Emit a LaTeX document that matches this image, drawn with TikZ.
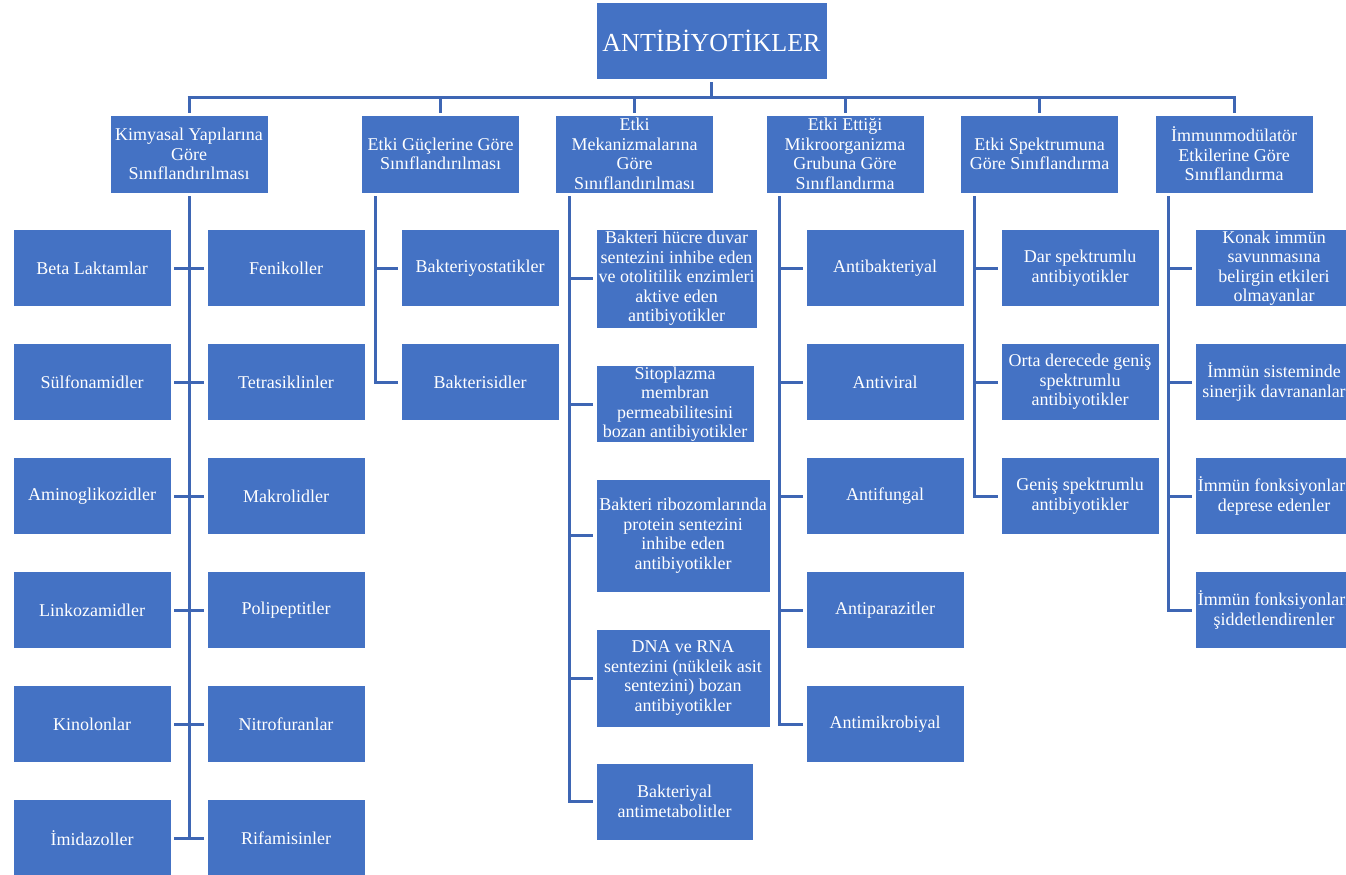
\documentclass[tikz,border=0pt]{standalone}
\usepackage{fontspec}
\setmainfont{Liberation Serif}
\definecolor{boxblue}{RGB}{68,114,196}
\definecolor{lineblue}{RGB}{62,102,180}
\begin{document}
\begin{tikzpicture}[x=1pt,y=-1pt,
  box/.style={fill=boxblue, draw=white, line width=0.6pt, text=white, align=center, inner sep=1pt, font=\fontsize{18}{19.5}\selectfont},
  leaf/.style={box, minimum width=158pt, minimum height=77pt},
  head/.style={box, minimum width=158pt, minimum height=78pt},
  conn/.style={draw=lineblue, line width=3pt},
]
\useasboundingbox (0,0) rectangle (1346,875);
\clip (0,0) rectangle (1346,875);
\fill[white] (0,0) rectangle (1346,875);

% root
\node[box, minimum width=231pt, minimum height=77pt, font=\fontsize{26}{28}\selectfont] (root) at (711.5,40.5) {ANTİBİYOTİKLER};

% level 1
\node[head] (k1) at (189,154) {Kimyasal Yapılarına\\Göre\\Sınıflandırılması};
\node[head] (k2) at (440.5,154) {Etki Güçlerine Göre\\Sınıflandırılması};
\node[head] (k3) at (634.5,154) {Etki\\Mekanizmalarına\\Göre\\Sınıflandırılması};
\node[head] (k4) at (845,154) {Etki Ettiği\\Mikroorganizma\\Grubuna Göre\\Sınıflandırma};
\node[head] (k5) at (1039.5,154) {Etki Spektrumuna\\Göre Sınıflandırma};
\node[head] (k6) at (1234,154) {İmmunmodülatör\\Etkilerine Göre\\Sınıflandırma};

% column 1
\node[leaf] (a1) at (92,268) {Beta Laktamlar};
\node[leaf] (a2) at (92,382) {Sülfonamidler};
\node[leaf] (a3) at (92,496) {Aminoglikozidler};
\node[leaf] (a4) at (92,610) {Linkozamidler};
\node[leaf] (a5) at (92,724) {Kinolonlar};
\node[leaf] (a6) at (92,838) {İmidazoller};
\node[leaf] (b1) at (286,268) {Fenikoller};
\node[leaf] (b2) at (286,382) {Tetrasiklinler};
\node[leaf] (b3) at (286,496) {Makrolidler};
\node[leaf] (b4) at (286,610) {Polipeptitler};
\node[leaf] (b5) at (286,724) {Nitrofuranlar};
\node[leaf] (b6) at (286,838) {Rifamisinler};

% column 2
\node[leaf] (c2a) at (480,268) {Bakteriyostatikler};
\node[leaf] (c2b) at (480,382) {Bakterisidler};

% column 3
\node[box, minimum width=161pt, minimum height=99pt] (c3a) at (676.5,278.5) {Bakteri hücre duvar\\sentezini inhibe eden\\ve otolitilik enzimleri\\aktive eden\\antibiyotikler};
\node[box, minimum width=158pt, minimum height=76pt] (c3b) at (675,404) {Sitoplazma\\membran\\permeabilitesini\\bozan antibiyotikler};
\node[box, minimum width=174pt, minimum height=113pt] (c3c) at (683,535.5) {Bakteri ribozomlarında\\protein sentezini\\inhibe eden\\antibiyotikler};
\node[box, minimum width=174pt, minimum height=98pt] (c3d) at (683,678) {DNA ve RNA\\sentezini (nükleik asit\\sentezini) bozan\\antibiyotikler};
\node[box, minimum width=157pt, minimum height=77pt] (c3e) at (674.5,801.5) {Bakteriyal\\antimetabolitler};

% column 4
\node[leaf] (c4a) at (885,268) {Antibakteriyal};
\node[leaf] (c4b) at (885,382) {Antiviral};
\node[leaf] (c4c) at (885,496) {Antifungal};
\node[leaf] (c4d) at (885,610) {Antiparazitler};
\node[leaf] (c4e) at (885,724) {Antimikrobiyal};

% column 5
\node[leaf] (c5a) at (1080,268) {Dar spektrumlu\\antibiyotikler};
\node[leaf] (c5b) at (1080,382) {Orta derecede geniş\\spektrumlu\\antibiyotikler};
\node[leaf] (c5c) at (1080,496) {Geniş spektrumlu\\antibiyotikler};

% column 6
\node[leaf] (c6a) at (1274,268) {Konak immün\\savunmasına\\belirgin etkileri\\olmayanlar};
\node[leaf] (c6b) at (1274,382) {İmmün sisteminde\\sinerjik davrananlar};
\node[leaf] (c6c) at (1274,496) {İmmün fonksiyonları\\deprese edenler};
\node[leaf] (c6d) at (1274,610) {İmmün fonksiyonları\\şiddetlendirenler};

% bus
\coordinate (bus) at (711.5,97);
\draw[conn] ([yshift=-3pt]root.south) -- (bus);
\draw[conn] ([xshift=-1.5pt]k1.north |- bus) -- ([xshift=1.5pt]k6.north |- bus);
\foreach \n in {k1,k2,k3,k4,k5,k6}
  \draw[conn] ([yshift=2pt]\n.north) -- (\n.north |- bus);

% column 1 trunk
\coordinate (t1) at ([yshift=-3pt]k1.south);
\draw[conn] (t1) -- (t1 |- a6.east);
\foreach \i in {1,...,6}
  \draw[conn] ([xshift=3pt]a\i.east) -- ([xshift=-3pt]b\i.west);

% column 2
\coordinate (t2) at ([xshift=14pt,yshift=-3pt]k2.south west);
\draw[conn] (t2) |- ([xshift=-3pt]c2b.west);
\draw[conn] (t2 |- c2a.west) -- ([xshift=-3pt]c2a.west);

% column 3
\coordinate (t3) at ([xshift=14pt,yshift=-3pt]k3.south west);
\draw[conn] (t3) |- ([xshift=-3pt]c3e.west);
\foreach \n in {c3a,c3b,c3c,c3d}
  \draw[conn] (t3 |- \n.west) -- ([xshift=-3pt]\n.west);

% column 4
\coordinate (t4) at ([xshift=14pt,yshift=-3pt]k4.south west);
\draw[conn] (t4) |- ([xshift=-3pt]c4e.west);
\foreach \n in {c4a,c4b,c4c,c4d}
  \draw[conn] (t4 |- \n.west) -- ([xshift=-3pt]\n.west);

% column 5
\coordinate (t5) at ([xshift=14pt,yshift=-3pt]k5.south west);
\draw[conn] (t5) |- ([xshift=-3pt]c5c.west);
\foreach \n in {c5a,c5b}
  \draw[conn] (t5 |- \n.west) -- ([xshift=-3pt]\n.west);

% column 6
\coordinate (t6) at ([xshift=14pt,yshift=-3pt]k6.south west);
\draw[conn] (t6) |- ([xshift=-3pt]c6d.west);
\foreach \n in {c6a,c6b,c6c}
  \draw[conn] (t6 |- \n.west) -- ([xshift=-3pt]\n.west);
\end{tikzpicture}
\end{document}
